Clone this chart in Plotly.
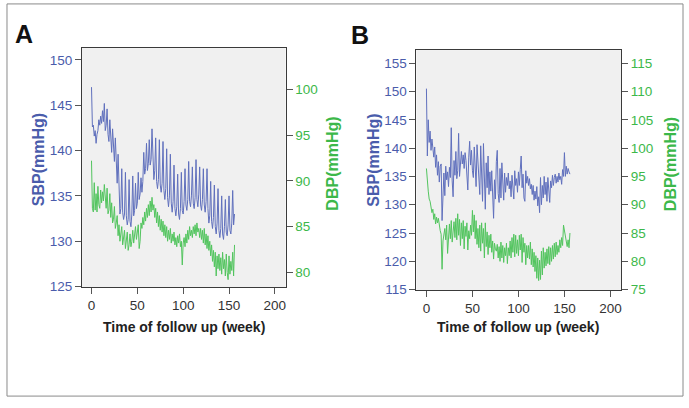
import plotly.graph_objects as go

weeks = list(range(157))

a_sbp = [
    147.0, 142.6, 142.8, 141.6, 142.2, 140.8, 141.8, 142.2, 143.4, 142.8,
    143.8, 143.0, 144.4, 143.2, 145.2, 142.2, 142.8, 144.6, 141.8, 141.0,
    143.4, 140.6, 139.8, 142.4, 139.6, 138.8, 141.4, 138.2, 136.4, 139.6,
    134.2, 133.0, 133.6, 138.0, 133.2, 132.4, 133.0, 137.6, 132.8, 131.8,
    132.4, 136.8, 132.2, 131.6, 133.0, 137.2, 132.8, 133.4, 136.4, 133.6,
    134.2, 137.6, 134.6, 135.2, 137.0, 135.4, 136.6, 139.8, 137.4, 138.0,
    140.8, 137.8, 138.6, 141.2, 138.4, 139.0, 142.4, 138.0, 136.8, 137.8,
    141.4, 136.6, 135.8, 136.8, 141.2, 136.2, 135.4, 136.4, 141.0, 135.6,
    134.6, 135.8, 140.2, 134.8, 133.8, 135.0, 139.6, 134.2, 133.2, 134.4,
    138.4, 133.6, 132.8, 133.8, 137.4, 133.0, 132.4, 133.6, 137.6, 133.4,
    133.0, 134.4, 138.0, 134.0, 133.4, 134.6, 138.8, 134.4, 133.8, 135.0,
    138.2, 134.2, 133.6, 134.8, 139.0, 134.6, 133.8, 135.2, 138.2, 134.0,
    133.4, 134.6, 138.0, 134.0, 133.2, 134.4, 138.0, 133.6, 132.0, 132.8,
    136.6, 132.2, 131.4, 132.6, 136.2, 131.6, 130.8, 132.0, 135.8, 131.2,
    130.4, 131.4, 135.0, 130.8, 130.2, 131.6, 134.6, 131.0, 130.6, 131.8,
    135.0, 131.2, 130.8, 132.0, 135.6, 131.8, 133.0,
]

a_dbp = [
    92.2, 87.0, 86.6, 89.8, 86.8, 88.6, 86.6, 89.4, 87.4, 87.0,
    89.0, 87.6, 88.8, 87.8, 89.6, 88.2, 87.0, 89.2, 86.4, 86.8,
    88.6, 86.0, 87.6, 85.4, 85.8, 87.2, 84.8, 85.4, 86.2, 84.0,
    85.2, 83.4, 84.0, 85.0, 83.0, 83.6, 84.6, 82.6, 83.4, 84.4,
    82.4, 83.0, 84.2, 82.8, 83.4, 84.6, 83.2, 84.0, 85.0, 83.6,
    84.4, 85.2, 82.6, 83.4, 85.4, 84.8, 86.0, 85.2, 86.6, 85.6,
    87.0, 86.0, 87.4, 86.2, 87.8, 86.6, 88.2, 86.8, 87.4, 86.0,
    87.0, 85.4, 86.6, 85.0, 86.2, 84.6, 85.8, 84.4, 85.6, 84.0,
    85.2, 83.8, 85.0, 83.4, 84.6, 83.6, 84.8, 83.2, 84.2, 83.4,
    84.4, 83.0, 83.8, 82.8, 84.0, 83.2, 84.2, 82.8, 83.4, 80.8,
    83.2, 83.8, 82.8, 84.2, 83.2, 84.6, 83.6, 85.0, 84.0, 84.6,
    83.8, 85.0, 84.2, 85.2, 84.0, 85.4, 84.4, 84.8, 83.8, 84.8,
    83.6, 84.6, 83.2, 84.8, 83.0, 84.2, 82.6, 84.0, 82.4, 83.4,
    81.8, 83.0, 81.2, 82.4, 80.6, 82.2, 79.6, 81.8, 80.4, 82.0,
    80.2, 81.6, 79.8, 82.2, 80.4, 81.4, 79.6, 82.0, 80.0, 79.2,
    81.8, 79.8, 81.2, 80.2, 82.2, 79.6, 83.0,
]

b_sbp = [
    150.5, 138.6, 145.0, 141.0, 143.0, 139.6, 141.6, 139.8, 138.4, 140.2,
    136.6, 138.8, 135.2, 137.6, 134.0, 136.8, 137.2, 127.2, 133.4, 135.6,
    131.6, 136.8, 134.4, 135.8, 133.2, 136.6, 134.8, 143.6, 134.2, 131.4,
    137.8, 135.2, 139.4, 134.6, 136.0, 142.6, 135.0, 136.8, 139.4, 137.2,
    138.8, 136.4, 139.2, 137.8, 135.6, 132.6, 138.4, 141.2, 137.0, 139.6,
    136.0, 134.8, 140.2, 135.4, 133.2, 140.6, 137.6, 134.0, 131.8, 140.4,
    136.4, 130.6, 140.8, 135.0, 129.2, 137.4, 133.0, 138.6, 131.8, 135.8,
    132.4, 136.0, 129.8, 127.6, 134.4, 131.0, 137.6, 139.6, 132.0, 130.4,
    136.4, 131.2, 137.4, 133.0, 130.8, 135.6, 132.2, 134.8, 133.4, 135.6,
    132.8, 134.2, 131.4, 135.2, 133.6, 131.0, 136.0, 133.4, 134.6, 132.2,
    135.8, 133.4, 136.2, 138.6, 133.0, 135.4, 131.2, 130.6, 136.0, 133.8,
    135.0, 133.4, 134.6, 132.8, 133.6, 131.8, 133.4, 130.8, 132.4, 131.0,
    133.2, 129.8, 131.4, 128.6, 134.8, 130.0, 133.4, 131.2, 135.0, 131.8,
    134.0, 130.6, 134.8, 132.4, 130.4, 134.2, 133.0, 135.2, 133.4, 134.8,
    135.4, 133.8, 135.0, 134.0, 135.6, 134.4, 135.0, 133.6, 136.2, 135.0,
    139.2, 135.0, 136.8, 135.4, 136.4, 135.8, 135.4,
]

b_dbp = [
    96.4, 93.4, 92.4, 91.0, 90.6, 89.6, 88.6, 89.2, 87.4, 88.4,
    86.6, 87.8, 86.8, 87.6, 86.2, 85.4, 84.8, 78.6, 83.6, 84.6,
    85.8, 83.8, 86.4, 81.4, 85.2, 86.6, 84.0, 87.2, 83.4, 85.6,
    87.0, 84.2, 87.6, 83.8, 88.4, 84.6, 87.4, 82.8, 86.8, 84.0,
    87.2, 82.2, 86.2, 84.4, 86.8, 82.0, 85.4, 84.0, 86.4, 84.6,
    89.0, 85.2, 88.2, 84.0, 87.2, 83.0, 85.8, 82.4, 86.4, 81.8,
    86.8, 83.2, 85.8, 80.6, 86.8, 82.6, 85.2, 81.2, 84.6, 82.4,
    84.8, 81.6, 83.6, 80.4, 83.2, 82.2, 81.8, 83.0, 80.6, 82.6,
    80.0, 83.4, 80.6, 82.8, 79.8, 82.4, 81.0, 83.2, 79.6, 82.4,
    81.0, 83.6, 80.6, 84.2, 81.6, 84.8, 80.8, 84.6, 81.4, 83.8,
    81.0, 84.6, 82.0, 84.8, 79.8, 84.2, 81.6, 83.2, 79.4, 82.8,
    80.6, 82.8, 80.4, 83.4, 79.4, 82.2, 79.0, 81.6, 78.2, 81.0,
    77.0, 80.6, 76.6, 80.2, 76.8, 81.8, 77.6, 82.4, 78.8, 81.6,
    79.2, 82.2, 79.6, 82.6, 79.4, 82.4, 80.0, 82.8, 80.4, 83.2,
    80.8, 83.4, 81.2, 82.8, 81.6, 83.8, 82.4, 84.2, 82.8, 86.4,
    85.4, 84.0, 83.2, 82.6, 83.8, 82.4, 85.0,
]

x_ticks = [0, 50, 100, 150, 200]
a_left_ticks = [125, 130, 135, 140, 145, 150]
a_right_ticks = [80, 85, 90, 95, 100]
b_left_ticks = [115, 120, 125, 130, 135, 140, 145, 150, 155]
b_right_ticks = [75, 80, 85, 90, 95, 100, 105, 110, 115]

BLUE = "#6070bd"
BLUE_TXT = "#4a5cab"
GREEN = "#52c45e"
GREEN_TXT = "#3cb84a"
FONT = "Liberation Sans"
W, H = 689, 408


def px(x):
    return x / W


def py(y):
    return 1 - y / H


fig = go.Figure()
fig.add_trace(go.Scatter(x=weeks, y=a_sbp, mode="lines", line=dict(color=BLUE, width=1),
                         xaxis="x", yaxis="y"))
fig.add_trace(go.Scatter(x=weeks, y=a_dbp, mode="lines", line=dict(color=GREEN, width=1),
                         xaxis="x", yaxis="y2"))
fig.add_trace(go.Scatter(x=weeks, y=b_sbp, mode="lines", line=dict(color=BLUE, width=1),
                         xaxis="x2", yaxis="y3"))
fig.add_trace(go.Scatter(x=weeks, y=b_dbp, mode="lines", line=dict(color=GREEN, width=1),
                         xaxis="x2", yaxis="y4"))

axcommon = dict(showgrid=False, zeroline=False, showline=True, linecolor="#3a3a3a",
                linewidth=1, ticks="outside", ticklen=6, tickcolor="#555555")

a_dom_x = [px(82), px(286)]
a_dom_y = [py(292), py(49)]
b_dom_x = [px(417), px(622)]
b_dom_y = [py(295), py(51)]

fig.update_layout(
    width=W, height=H, margin=dict(l=0, r=0, t=0, b=0),
    paper_bgcolor="white", plot_bgcolor="#f0f0f0", showlegend=False,
    font=dict(family=FONT, size=13),
    xaxis=dict(axcommon, domain=a_dom_x, range=[-10.5, 211.7], tickvals=x_ticks,
               mirror=True, anchor="y", tickfont=dict(color="#333333", size=13.5)),
    yaxis=dict(axcommon, domain=a_dom_y, range=[124.95, 151.3], tickvals=a_left_ticks,
               anchor="x", tickfont=dict(color=BLUE_TXT, size=13.5)),
    yaxis2=dict(axcommon, domain=a_dom_y, range=[78.4, 104.5], tickvals=a_right_ticks,
                overlaying="y", side="right", anchor="x", tickfont=dict(color=GREEN_TXT, size=13.5)),
    xaxis2=dict(axcommon, domain=b_dom_x, range=[-10.9, 211.6], tickvals=x_ticks,
                mirror=True, anchor="y3", tickfont=dict(color="#333333", size=13.5)),
    yaxis3=dict(axcommon, domain=b_dom_y, range=[114.95, 157.3], tickvals=b_left_ticks,
                anchor="x2", tickfont=dict(color=BLUE_TXT, size=13.5)),
    yaxis4=dict(axcommon, domain=b_dom_y, range=[74.95, 117.3], tickvals=b_right_ticks,
                overlaying="y3", side="right", anchor="x2", tickfont=dict(color=GREEN_TXT, size=13.5)),
)

fig.add_shape(type="rect", xref="paper", yref="paper",
              x0=px(7), x1=px(684), y0=py(403), y1=py(4),
              line=dict(color="#8a8a8a", width=1), fillcolor="rgba(0,0,0,0)", layer="below")

annots = [
    dict(text="<b>A</b>", x=px(24), y=py(35), font=dict(size=25, color="#111111")),
    dict(text="<b>B</b>", x=px(361), y=py(36), font=dict(size=25, color="#111111")),
    dict(text="<b>SBP(mmHg)</b>", x=px(38), y=py(162), textangle=-90,
         font=dict(size=16, color=BLUE_TXT)),
    dict(text="<b>DBP(mmHg)</b>", x=px(333), y=py(167), textangle=-90,
         font=dict(size=16, color=GREEN_TXT)),
    dict(text="<b>SBP(mmHg)</b>", x=px(374), y=py(163), textangle=-90,
         font=dict(size=16, color=BLUE_TXT)),
    dict(text="<b>DBP(mmHg)</b>", x=px(671), y=py(167), textangle=-90,
         font=dict(size=16, color=GREEN_TXT)),
    dict(text="<b>Time of follow up (week)</b>", x=px(184), y=py(333),
         font=dict(size=14, color="#222222")),
    dict(text="<b>Time of follow up (week)</b>", x=px(519), y=py(333),
         font=dict(size=14, color="#222222")),
]
for a in annots:
    fig.add_annotation(xref="paper", yref="paper", showarrow=False,
                       xanchor="center", yanchor="middle", **a)

fig.write_html("out.html",
               config={"displayModeBar": False},
               post_script="document.body.style.margin='0';document.body.style.overflow='hidden';")
